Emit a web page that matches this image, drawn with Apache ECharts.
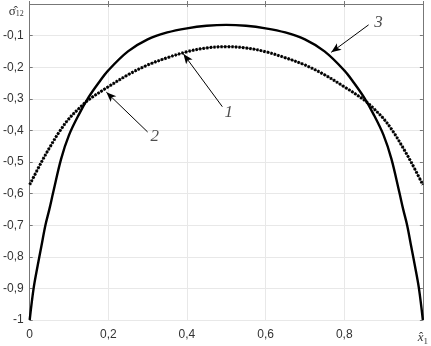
<!DOCTYPE html>
<html><head><meta charset="utf-8">
<script src="https://cdn.jsdelivr.net/npm/echarts@6/dist/echarts.min.js"></script>
<style>html,body{margin:0;padding:0;background:#fff}#c{width:431px;height:346px}</style>
</head><body><div id="c"></div>
<script>
// Curve 3 (solid)
var x3 = [0,0.01,0.02,0.03,0.04,0.05,0.06,0.08,0.1,0.125,0.15,0.175,0.2,0.25,0.3,0.35,0.4,0.45,0.5,0.55,0.6,0.65,0.7,0.75,0.8,0.825,0.85,0.875,0.9,0.92,0.94,0.95,0.96,0.97,0.98,0.99,1];
var y3 = [-1,-0.9,-0.83,-0.765,-0.7,-0.65,-0.595,-0.49,-0.415,-0.35,-0.295,-0.25,-0.21,-0.15,-0.112,-0.09,-0.077,-0.069,-0.066,-0.069,-0.077,-0.09,-0.112,-0.15,-0.21,-0.25,-0.295,-0.35,-0.415,-0.49,-0.595,-0.65,-0.7,-0.765,-0.83,-0.9,-1];
// Curves 1 and 2 (coincident, dotted)
var x12 = [0,0.03,0.05,0.075,0.1,0.125,0.15,0.2,0.25,0.3,0.35,0.4,0.45,0.5,0.55,0.6,0.65,0.7,0.75,0.8,0.85,0.875,0.9,0.925,0.95,0.97,1];
var y12 = [-0.572,-0.5,-0.456,-0.405,-0.363,-0.331,-0.303,-0.262,-0.224,-0.193,-0.17,-0.151,-0.139,-0.135,-0.139,-0.151,-0.17,-0.193,-0.224,-0.262,-0.303,-0.331,-0.363,-0.405,-0.456,-0.5,-0.572];
// Ticks
var xTicks = ['0','0,2','0,4','0,6','0,8'];
var yTicks = ['-1','-0,9','-0,8','-0,7','-0,6','-0,5','-0,4','-0,3','-0,2','-0,1'];
// Annotations: label, text position, arrow start, arrow tip
var annLabels = ['1','2','3'];
var annText = [[0.506,-0.342],[0.318,-0.42],[0.887,-0.06]];
var annFrom = [[0.49,-0.325],[0.30,-0.405],[0.862,-0.066]];
var annTo = [[0.391,-0.158],[0.195,-0.279],[0.767,-0.153]];

function pairs(xs, ys){ return xs.map(function(v,i){return [v, ys[i]];}); }

var chart = echarts.init(document.getElementById('c'));
var axisCol = '#777';
var labFont = {color:'#333', fontSize:12, fontFamily:'Liberation Sans, Arial, sans-serif'};
chart.setOption({
  animation:false,
  grid:{left:29, right:3, top:4, bottom:25, containLabel:false},
  xAxis:[{
    type:'value', min:0, max:1, interval:0.2,
    axisLine:{lineStyle:{color:axisCol}},
    axisTick:{inside:true, length:3, lineStyle:{color:axisCol}},
    splitLine:{show:true, lineStyle:{color:'#e8e8e8'}},
    axisLabel:Object.assign({margin:9, formatter:function(v){
      var i = Math.round(v/0.2);
      if (Math.abs(v-1)<1e-9) return '{x|x\u0302}{s|1}';
      return xTicks[i];
    }, rich:{x:{fontFamily:'Liberation Serif, serif', fontStyle:'italic', fontSize:13, color:'#333'}, s:{fontFamily:'Liberation Serif, serif', fontSize:9, color:'#333', padding:[8,0,0,0]}}}, labFont)
  },{
    type:'value', min:0, max:1, interval:0.2, position:'top',
    axisLine:{show:true, onZero:false, lineStyle:{color:axisCol}},
    axisTick:{inside:true, length:3, lineStyle:{color:axisCol}},
    axisLabel:{show:false}, splitLine:{show:false}
  }],
  yAxis:[{
    type:'value', min:-1, max:0, interval:0.1,
    axisLine:{show:true, lineStyle:{color:axisCol}},
    axisTick:{show:true, inside:true, length:3, lineStyle:{color:axisCol}},
    splitLine:{show:true, lineStyle:{color:'#e8e8e8'}},
    axisLabel:Object.assign({margin:6, formatter:function(v){
      if (Math.abs(v)<1e-9) return '{g|\u03C3\u0302}{s|12}';
      var i = Math.round((v+1)/0.1);
      return yTicks[i];
    }, rich:{g:{fontFamily:'Liberation Serif, serif', fontSize:13, color:'#333', padding:[16,0,0,0]}, s:{fontFamily:'Liberation Serif, serif', fontSize:8, color:'#333', padding:[20,0,0,0]}}}, labFont)
  },{
    type:'value', min:-1, max:0, interval:0.1, position:'right',
    axisLine:{show:true, onZero:false, lineStyle:{color:axisCol}},
    axisTick:{show:true, inside:true, length:3, lineStyle:{color:axisCol}},
    axisLabel:{show:false}, splitLine:{show:false}
  }],
  series:[
    {name:'3', type:'line', data:pairs(x3,y3), smooth:0.35, showSymbol:false,
     lineStyle:{color:'#000', width:2.4}, z:3},
    {name:'1', type:'line', data:pairs(x12,y12), smooth:0.35, showSymbol:false,
     lineStyle:{color:'#444', width:1.2}, z:2},
    {name:'2', type:'line', data:pairs(x12,y12), smooth:0.35, showSymbol:false,
     lineStyle:{color:'#000', width:3, type:[2.2,1.4]}, z:2,
     markLine:{silent:true, symbol:['none','arrow'], symbolSize:9, animation:false,
       label:{show:false}, lineStyle:{color:'#000', width:1, type:'solid'},
       data:annFrom.map(function(f,i){return [{coord:f, symbol:'none'},{coord:annTo[i], symbol:'arrow', symbolSize:[6,10]}];})}
    },
    {name:'labels', type:'scatter', data:annText.map(function(p,i){return {value:p, name:annLabels[i]};}),
     symbolSize:0, silent:true,
     label:{show:true, position:'inside', formatter:function(p){return p.name;},
       fontFamily:'Liberation Serif, serif', fontStyle:'italic', fontSize:17, color:'#222'}}
  ]
});
</script></body></html>
